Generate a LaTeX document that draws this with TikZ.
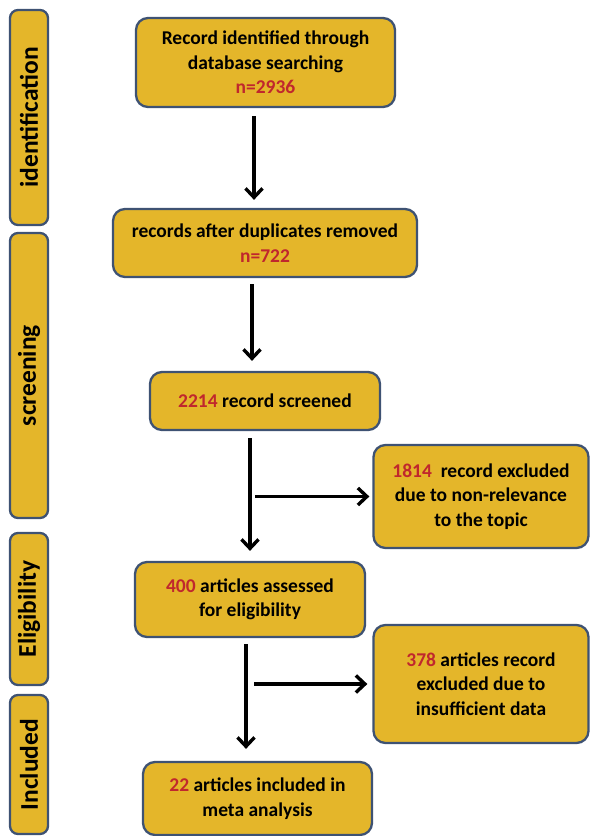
\documentclass[tikz,border=0pt]{standalone}
\usepackage{fontspec}
\setmainfont{Carlito}
\usetikzlibrary{arrows.meta,positioning}
\definecolor{boxfill}{HTML}{E4B62A}
\definecolor{boxline}{HTML}{3E5273}
\definecolor{numred}{HTML}{C0272D}
\newcommand{\redno}[1]{\textcolor{numred}{#1}}

\begin{document}
\begin{tikzpicture}[x=1pt, y=-1pt,
  box/.style={draw=boxline, fill=boxfill, line width=2.3pt, rounded corners=12pt, align=center,
    font=\fontsize{19.5}{24.5}\selectfont\bfseries, inner sep=0pt},
  stage/.style={box, rounded corners=8pt, minimum height=38pt, rotate=90,
    font=\fontsize{25.5}{28}\selectfont\bfseries},
  arr/.style={-{Straight Barb[length=9pt,width=17pt,line width=3.4pt]}, line width=3.6pt}]
 \useasboundingbox (0,0) rectangle (590,836);

 % Stage bars on the left
 \node[stage, minimum width=215pt] (sident) at (29,117.5) {identification};
 \node[stage, minimum width=285pt] (sscreen) at (29,375.5) {screening};
 \node[stage, minimum width=152pt] (selig) at (29,609) {Eligibility};
 \node[stage, minimum width=139pt] (sincl) at (29,764.5) {Included};

 % Main column
 \node[box, minimum width=259pt, minimum height=89pt] (ident) at (265.5,62.5) {Record identified through\\database searching\\\redno{n=2936}};
 \node[box, minimum width=304pt, minimum height=68pt] (dupl) at (265,243) {records after duplicates removed\\\redno{n=722}};
 \node[box, minimum width=230pt, minimum height=58pt] (screen) at (265,401) {\redno{2214} record screened};
 \node[box, minimum width=230pt, minimum height=75pt] (elig) at (250,599.5) {\redno{400} articles assessed\\for eligibility};
 \node[box, minimum width=229pt, minimum height=73pt] (incl) at (257.5,798.5) {\redno{22} articles included in\\meta analysis};

 % Exclusions on the right
 \node[box, minimum width=215pt, minimum height=103pt] (excl1) at (481,496.5) {\redno{1814}\ \ record excluded\\due to non-relevance\\to the topic};
 \node[box, minimum width=215pt, minimum height=118pt] (excl2) at (481,684) {\redno{378} articles record\\excluded due to\\insufficient data};

 % Arrows
 \draw[arr, shorten <=8pt, shorten >=8pt] ([xshift=-11.5pt]ident.south) -- ([xshift=-11.5pt]ident.south |- dupl.north);
 \draw[arr, shorten <=6pt, shorten >=10pt] ([xshift=-13pt]dupl.south) -- ([xshift=-13pt]dupl.south |- screen.north);
 \draw[arr, shorten <=7pt, shorten >=10pt] (elig.north |- screen.south) -- (elig.north);
 \draw[arr, shorten <=6pt, shorten >=12pt] ([xshift=-4pt]elig.south) -- ([xshift=-4pt]elig.south |- incl.north);

 \coordinate (brone) at (elig.north |- excl1.west);
 \coordinate (brtwo) at ([xshift=-4pt]elig.south |- excl2.west);
 \draw[arr, shorten <=5pt, shorten >=3pt] (brone) -- (excl1.west);
 \draw[arr, shorten <=8pt, shorten >=5pt] (brtwo) -- (excl2.west);
\end{tikzpicture}
\end{document}
